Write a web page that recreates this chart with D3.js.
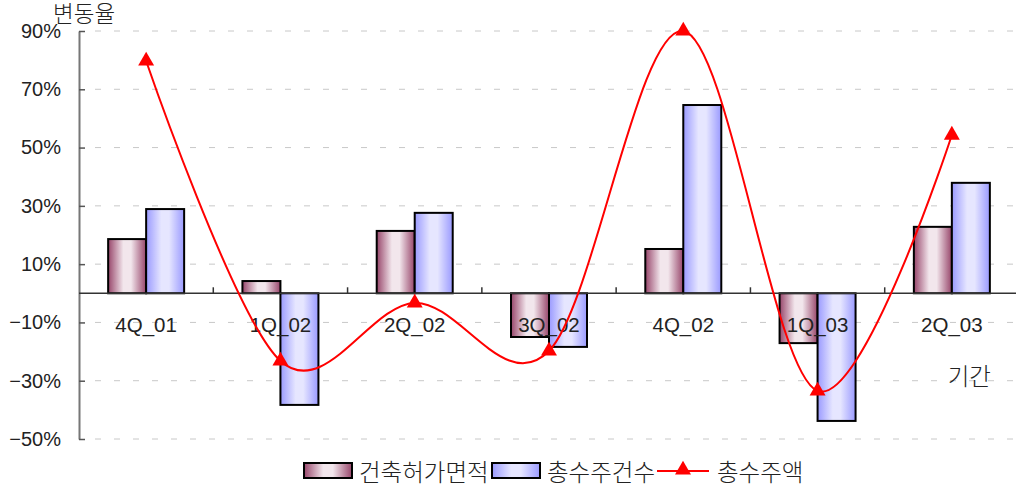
<!DOCTYPE html>
<html><head><meta charset="utf-8">
<script src="https://cdn.jsdelivr.net/npm/d3@7"></script>
<style>
body{margin:0;background:#fff;}
text{font-family:"Liberation Sans","Noto Sans CJK KR",sans-serif;fill:#222;}
.kr{font-family:"Noto Sans CJK KR",sans-serif;font-weight:300;}
</style></head>
<body><svg id="c" width="1016" height="488"></svg>
<script>
const categories = ["4Q_01","1Q_02","2Q_02","3Q_02","4Q_02","1Q_03","2Q_03"];
const areaPermit = [18.6, 4.2, 21.4, -15.0, 15.2, -17.1, 22.8];   // 건축허가면적
const orderCount = [28.9, -38.3, 27.6, -18.4, 64.6, -43.8, 37.9]; // 총수주건수
const orderAmount = [79.7, -23.2, -3.3, -19.8, 90.0, -33.5, 54.3]; // 총수주액
const yTicks = [90, 70, 50, 30, 10, -10, -30, -50];
const seriesNames = ["건축허가면적", "총수주건수", "총수주액"];

(function(){
const svg = d3.select("#c");
const pL = 79, pR = 1019, pT = 31, pB = 439;
const x = d3.scaleBand().domain(categories).range([pL, pR]).paddingInner(0).paddingOuter(0);
const y = d3.scaleLinear().domain([-50, 90]).range([pB, pT]);
const barW = 38;

const defs = svg.append("defs");
function grad(id, dark, light){
  const g = defs.append("linearGradient").attr("id", id).attr("x1","0").attr("x2","1").attr("y1","0").attr("y2","0");
  g.append("stop").attr("offset","0").attr("stop-color", dark);
  g.append("stop").attr("offset","0.4").attr("stop-color", light);
  g.append("stop").attr("offset","0.6").attr("stop-color", light);
  g.append("stop").attr("offset","1").attr("stop-color", dark);
}
grad("gM", "#97456a", "#f2e6ec");
grad("gB", "#9a9aff", "#e6e6ff");

// gridlines
svg.append("g").selectAll("line").data(yTicks).join("line")
  .attr("x1", pL + 16).attr("x2", 1016).attr("y1", d => y(d)).attr("y2", d => y(d))
  .attr("stroke", "#c8c8c8").attr("stroke-width", 1).attr("stroke-dasharray", "6,13");

// y axis
const yAxis = d3.axisLeft(y).tickValues(yTicks).tickFormat(d => (d < 0 ? "\u2212" + (-d) : d) + "%").tickSizeInner(-6).tickSizeOuter(0).tickPadding(18);
const ga = svg.append("g").attr("transform", `translate(${pL},0)`).call(yAxis);
ga.select(".domain").attr("stroke", "#777").attr("stroke-width", 2);
ga.selectAll(".tick line").attr("stroke", "#555").attr("stroke-width", 1.5);
ga.selectAll(".tick text").attr("font-size", 20).attr("fill", "#222").attr("font-family", "Liberation Sans, sans-serif");

svg.append("text").attr("class", "kr").attr("x", 53).attr("y", 22).attr("font-size", 22.5).text("변동율");

// bars
const gb = svg.append("g");
categories.forEach((c, i) => {
  const cx = x(c) + x.bandwidth() / 2;
  [[areaPermit[i], "url(#gM)", cx - barW], [orderCount[i], "url(#gB)", cx]].forEach(([v, f, bx]) => {
    gb.append("rect").attr("x", bx).attr("width", barW)
      .attr("y", y(Math.max(0, v))).attr("height", Math.abs(y(v) - y(0)))
      .attr("fill", f).attr("stroke", "#000").attr("stroke-width", 2);
  });
});

// zero axis
svg.append("line").attr("x1", pL).attr("x2", 1016).attr("y1", y(0)).attr("y2", y(0)).attr("stroke", "#333").attr("stroke-width", 1.5);
svg.append("g").selectAll("line").data(categories.slice(1)).join("line")
  .attr("x1", d => x(d)).attr("x2", d => x(d)).attr("y1", y(0)).attr("y2", y(0) - 6)
  .attr("stroke", "#333").attr("stroke-width", 1.5);

// category labels
svg.append("g").selectAll("text").data(categories).join("text")
  .attr("x", d => x(d) + x.bandwidth() / 2).attr("y", y(0) + 39)
  .attr("text-anchor", "middle").attr("font-size", 20.5).text(d => d);

svg.append("text").attr("class", "kr").attr("x", 991).attr("y", 385).attr("text-anchor", "end").attr("font-size", 23.5).text("기간");

// line
const pts = categories.map((c, i) => [x(c) + x.bandwidth() / 2, y(orderAmount[i])]);
svg.append("path").attr("d", d3.line().curve(d3.curveCardinal.tension(0))(pts))
  .attr("fill", "none").attr("stroke", "#ff0000").attr("stroke-width", 2);
const tri = d3.symbol().type(d3.symbolTriangle).size(110);
svg.append("g").selectAll("path").data(pts).join("path")
  .attr("d", tri).attr("transform", d => `translate(${d[0]},${d[1]})`).attr("fill", "#ff0000");

// legend
const lg = svg.append("g");
lg.append("rect").attr("x", 304).attr("y", 463).attr("width", 48).attr("height", 15).attr("fill", "url(#gM)").attr("stroke", "#000").attr("stroke-width", 2);
lg.append("text").attr("class", "kr").attr("x", 359).attr("y", 481).attr("font-size", 23.5).text(seriesNames[0]);
lg.append("rect").attr("x", 492).attr("y", 463).attr("width", 48).attr("height", 15).attr("fill", "url(#gB)").attr("stroke", "#000").attr("stroke-width", 2);
lg.append("text").attr("class", "kr").attr("x", 547).attr("y", 481).attr("font-size", 23.5).text(seriesNames[1]);
lg.append("line").attr("x1", 657).attr("x2", 709).attr("y1", 471).attr("y2", 471).attr("stroke", "#ff0000").attr("stroke-width", 2);
lg.append("path").attr("d", tri).attr("transform", "translate(683,470)").attr("fill", "#ff0000");
lg.append("text").attr("class", "kr").attr("x", 717).attr("y", 481).attr("font-size", 23.5).text(seriesNames[2]);
})();
</script></body></html>
